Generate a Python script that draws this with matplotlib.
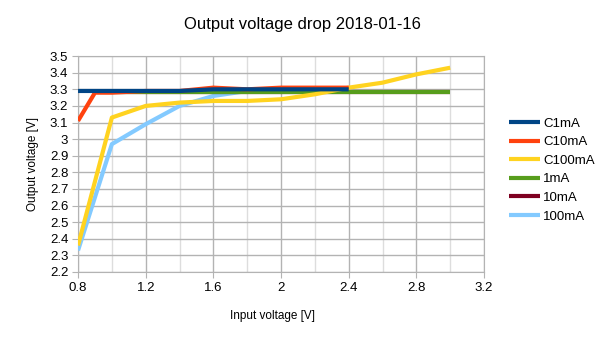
import matplotlib
matplotlib.use('Agg')
import matplotlib.pyplot as plt
from matplotlib.ticker import MultipleLocator

plt.rcParams['font.family'] = ['Liberation Sans', 'DejaVu Sans']

# input voltage samples [V]
xC1mA = [0.8, 0.9, 1.0, 1.2, 1.4, 1.6, 1.8, 2.0, 2.2, 2.4]
xC10mA = [0.8, 0.9, 1.0, 1.2, 1.4, 1.6, 1.8, 2.0, 2.2, 2.4]
xC100mA = [0.8, 1.0, 1.2, 1.4, 1.6, 1.8, 2.0, 2.2, 2.4, 2.6, 2.8, 3.0]
x1mA = [0.9, 1.0, 1.2, 1.4, 1.6, 1.8, 2.0, 2.2, 2.4, 2.6, 2.8, 3.0]
x10mA = [0.9, 1.0, 1.2, 1.4, 1.6, 1.8, 2.0, 2.2, 2.4, 2.6, 2.8, 3.0]
x100mA = [0.8, 1.0, 1.2, 1.4, 1.6, 1.8, 2.0, 2.2, 2.4]

# output voltage [V]
C1mA = [3.29, 3.29, 3.29, 3.29, 3.29, 3.30, 3.30, 3.30, 3.30, 3.30]
C10mA = [3.11, 3.28, 3.28, 3.29, 3.29, 3.31, 3.30, 3.31, 3.31, 3.31]
C100mA = [2.36, 3.13, 3.20, 3.22, 3.23, 3.23, 3.24, 3.27, 3.31, 3.34, 3.39, 3.43]
v1mA = [3.285] * 12
v10mA = [3.285] * 12
v100mA = [2.33, 2.97, 3.09, 3.20, 3.26, 3.29, 3.30, 3.30, 3.30]

series = [
    ('C1mA', xC1mA, C1mA, '#004586'),
    ('C10mA', xC10mA, C10mA, '#ff420e'),
    ('C100mA', xC100mA, C100mA, '#ffd320'),
    ('1mA', x1mA, v1mA, '#579d1c'),
    ('10mA', x10mA, v10mA, '#7e0021'),
    ('100mA', x100mA, v100mA, '#83caff'),
]

fig = plt.figure(figsize=(6.05, 3.4), dpi=100)
ax = fig.add_axes([0.129, 0.2, 0.671, 0.635])

for i, (name, xs, ys, color) in enumerate(series):
    ax.plot(xs, ys, color=color, linewidth=3, label=name, zorder=10 - i,
            solid_capstyle='butt')

ax.set_xlim(0.8, 3.2)
ax.set_ylim(2.2, 3.5)
ax.xaxis.set_major_locator(MultipleLocator(0.4))
ax.xaxis.set_minor_locator(MultipleLocator(0.2))
ax.yaxis.set_major_locator(MultipleLocator(0.1))
ax.set_xticklabels([], minor=True)
ax.xaxis.set_major_formatter(plt.FuncFormatter(lambda v, p: f'{round(v, 2):g}'))
ax.yaxis.set_major_formatter(plt.FuncFormatter(lambda v, p: f'{round(v, 2):g}'))

ax.grid(True, which='major', color='#b3b3b3', linewidth=1)
ax.grid(True, which='minor', axis='x', color='#dddddd', linewidth=1)
ax.set_axisbelow(True)
for spine in ax.spines.values():
    spine.set_color('#b3b3b3')
ax.tick_params(which='major', length=4, color='#b3b3b3', labelsize=9.5, pad=3)
ax.tick_params(which='minor', length=0)

# title is centred on the whole figure, not on the plot area
fig.text(0.5, 1 - 25 / 340, 'Output voltage drop 2018-01-16', fontsize=12,
         ha='center', va='center')
ax.set_xlabel('Input voltage [V]', fontsize=8.5)
ax.xaxis.set_label_coords(0.48, -0.175)
ax.set_ylabel('Output voltage [V]', fontsize=8.5, labelpad=8)

ax.legend(loc='center left', bbox_to_anchor=(1.033, 0.472), frameon=False,
          fontsize=9.5, handlelength=2.3, handletextpad=0.25, labelspacing=0.48)

fig.savefig('out.png', dpi=100)
